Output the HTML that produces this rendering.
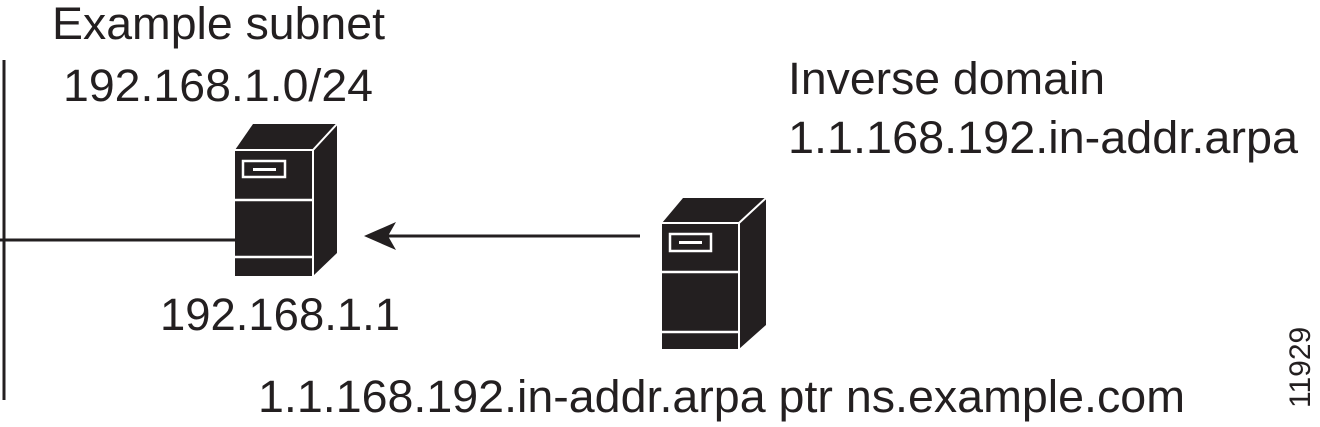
<!DOCTYPE html>
<html><head><style>body{margin:0;background:#fff}svg{display:block}</style></head><body>
<svg width="1320" height="427" viewBox="0 0 1320 427" xmlns="http://www.w3.org/2000/svg" font-family="Liberation Sans, sans-serif" fill="#231f20">
<line x1="4" y1="60" x2="4" y2="400" stroke="#231f20" stroke-width="3"/>
<line x1="0" y1="240" x2="236" y2="240" stroke="#231f20" stroke-width="3"/>
<!-- server 1 -->
<polygon points="235,150 253,124 337,124 337,253 313,276 235,276" fill="#231f20"/>
<polyline points="235,150 313,150 337,124" fill="none" stroke="#fff" stroke-width="2"/>
<line x1="313" y1="150" x2="313" y2="276" stroke="#fff" stroke-width="2"/>
<line x1="235" y1="200" x2="313" y2="200" stroke="#fff" stroke-width="2.5"/>
<line x1="235" y1="257" x2="313" y2="257" stroke="#fff" stroke-width="2.5"/>
<rect x="243" y="161" width="42" height="16" fill="none" stroke="#fff" stroke-width="2.5"/>
<rect x="253" y="168" width="23" height="3" fill="#fff"/>
<!-- server 2 -->
<polygon points="662,223 683,198 766,198 766,325 739,349 662,349" fill="#231f20"/>
<polyline points="662,223 739,223 766,198" fill="none" stroke="#fff" stroke-width="2"/>
<line x1="739" y1="223" x2="739" y2="349" stroke="#fff" stroke-width="2"/>
<line x1="662" y1="272" x2="739" y2="272" stroke="#fff" stroke-width="2.5"/>
<line x1="662" y1="332" x2="739" y2="332" stroke="#fff" stroke-width="2.5"/>
<rect x="670" y="234" width="41" height="17" fill="none" stroke="#fff" stroke-width="2.5"/>
<rect x="679" y="241" width="23" height="3" fill="#fff"/>
<!-- arrow -->
<line x1="385" y1="236" x2="640" y2="236" stroke="#231f20" stroke-width="3"/>
<polygon points="364,236 396,222 388,236 396,250" fill="#231f20"/>
<g font-size="45">
<text x="52" y="39" textLength="333" lengthAdjust="spacingAndGlyphs">Example subnet</text>
<text x="63" y="101" textLength="310" lengthAdjust="spacingAndGlyphs">192.168.1.0/24</text>
<text x="788" y="94" textLength="317" lengthAdjust="spacingAndGlyphs">Inverse domain</text>
<text x="788" y="153" textLength="510" lengthAdjust="spacingAndGlyphs">1.1.168.192.in-addr.arpa</text>
<text x="160" y="330" textLength="240" lengthAdjust="spacingAndGlyphs">192.168.1.1</text>
<text x="258" y="412" textLength="927" lengthAdjust="spacingAndGlyphs">1.1.168.192.in-addr.arpa ptr ns.example.com</text>
</g>
<text transform="translate(1310,408) rotate(-90)" font-size="30">11929</text>
</svg>
</body></html>
